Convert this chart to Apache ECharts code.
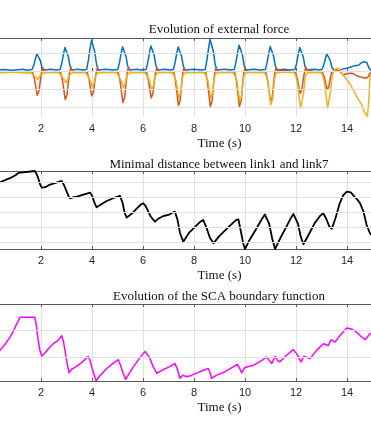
<!DOCTYPE html>
<html>
<head>
<meta charset="utf-8">
<script src="https://cdn.jsdelivr.net/npm/echarts@6/dist/echarts.min.js"></script>
<style>
  html, body { margin: 0; padding: 0; background: #fff; }
  #chart { width: 371px; height: 441px; }
</style>
</head>
<body>
<div id="chart"></div>
<script>
// x ticks (s)
const timeTicks = [0, 2, 4, 6, 8, 10, 12, 14, 16, 18];

// external force, three components [t, value]
const forceBlue = [
  [0, 0.3], [0.5, 0.4], [0.9, 0.2], [1.3, 0.5], [1.45, 0.2],
  [1.65, 0.4], [1.72, 1.7], [1.79, 3.7], [1.84, 4.75], [1.87, 4.9], [1.91, 4.55], [1.97, 2.95], [2.04, 1.0], [2.11, 0.3],
  [2.4, 0.5], [2.6, 0.3],
  [2.75, 0.4], [2.82, 2.35], [2.89, 5.05], [2.94, 6.55], [2.97, 6.75], [3.01, 6.3], [3.07, 4.05], [3.14, 1.35], [3.21, 0.3],
  [3.45, 0.5], [3.65, 0.3],
  [3.79, 0.4], [3.86, 3.1], [3.93, 6.6], [3.98, 8.55], [4.01, 8.8], [4.05, 8.2], [4.11, 5.3], [4.18, 1.75], [4.25, 0.3],
  [4.55, 0.5], [4.8, 0.3],
  [5.01, 0.4], [5.08, 2.4], [5.15, 5.2], [5.2, 6.7], [5.23, 6.9], [5.27, 6.4], [5.33, 4.15], [5.4, 1.4], [5.47, 0.3],
  [5.75, 0.5], [5.95, 0.3],
  [6.12, 0.4], [6.19, 2.5], [6.26, 5.4], [6.31, 7.0], [6.34, 7.2], [6.38, 6.7], [6.44, 4.3], [6.51, 1.45], [6.58, 0.3],
  [6.85, 0.5], [7.05, 0.3],
  [7.19, 0.4], [7.26, 2.4], [7.33, 5.2], [7.38, 6.7], [7.41, 6.9], [7.45, 6.4], [7.51, 4.15], [7.58, 1.4], [7.65, 0.3],
  [8.0, 0.5], [8.25, 0.3],
  [8.44, 0.4], [8.51, 3.2], [8.58, 6.8], [8.63, 8.8], [8.66, 9.1], [8.7, 8.45], [8.76, 5.45], [8.83, 1.8], [8.9, 0.3],
  [9.2, 0.5], [9.4, 0.3],
  [9.58, 0.4], [9.65, 2.6], [9.72, 5.55], [9.77, 7.2], [9.8, 7.4], [9.84, 6.9], [9.9, 4.45], [9.97, 1.5], [10.04, 0.3],
  [10.35, 0.5], [10.6, 0.3],
  [10.8, 0.4], [10.87, 2.45], [10.94, 5.25], [10.99, 6.8], [11.02, 7.0], [11.06, 6.5], [11.12, 4.2], [11.19, 1.4], [11.26, 0.3],
  [11.55, 0.5], [11.75, 0.3],
  [11.96, 0.4], [12.03, 2.35], [12.1, 5.05], [12.15, 6.55], [12.18, 6.75], [12.22, 6.3], [12.28, 4.05], [12.35, 1.35], [12.42, 0.3],
  [12.7, 0.5], [12.9, 0.3],
  [13.02, 0.4], [13.09, 1.7], [13.16, 3.7], [13.21, 4.75], [13.24, 4.9], [13.28, 4.55], [13.34, 2.95], [13.41, 1.0], [13.48, 0.3],
  [13.6, 0.0], [13.7, 0.2], [13.85, 0.6], [14.0, 0.8], [14.15, 1.1], [14.3, 1.5], [14.45, 1.6],
  [14.55, 2.2], [14.65, 2.6], [14.72, 3.1], [14.78, 2.4], [14.85, 1.0], [14.92, 0.3], [15.0, 0.4]
];

const forceOrange = [
  [0, -0.2], [0.5, -0.3], [0.9, -0.1], [1.3, -0.4],
  [1.67, -0.4], [1.74, -2.1], [1.81, -5.1], [1.85, -6.75], [1.88, -7.1], [1.92, -5.7], [1.97, -2.85], [2.02, -0.5], [2.07, 0.9], [2.15, -0.1],
  [2.5, -0.3],
  [2.77, -0.4], [2.84, -2.5], [2.91, -6.0], [2.95, -7.9], [2.98, -8.3], [3.02, -6.65], [3.07, -3.3], [3.12, -0.5], [3.17, 1.0], [3.25, -0.1],
  [3.55, -0.3],
  [3.81, -0.4], [3.88, -2.2], [3.95, -5.25], [3.99, -6.95], [4.02, -7.3], [4.06, -5.85], [4.11, -2.9], [4.16, -0.5], [4.21, 0.8], [4.29, -0.1],
  [4.65, -0.3],
  [5.03, -0.4], [5.1, -2.75], [5.17, -6.6], [5.21, -8.75], [5.24, -9.2], [5.28, -7.35], [5.33, -3.7], [5.38, -0.5], [5.43, 1.0], [5.51, -0.1],
  [5.85, -0.3],
  [6.14, -0.4], [6.21, -2.35], [6.28, -5.7], [6.32, -7.5], [6.35, -7.9], [6.39, -6.3], [6.44, -3.15], [6.49, -0.5], [6.54, 0.8], [6.62, -0.1],
  [6.95, -0.3],
  [7.21, -0.4], [7.28, -3.0], [7.35, -7.25], [7.39, -9.6], [7.42, -10.1], [7.46, -8.1], [7.51, -4.05], [7.56, -0.5], [7.61, 0.8], [7.69, -0.1],
  [8.1, -0.3],
  [8.46, -0.4], [8.53, -3.1], [8.6, -7.5], [8.64, -9.9], [8.67, -10.4], [8.71, -8.3], [8.76, -4.15], [8.81, -0.5], [8.86, 0.8], [8.94, -0.1],
  [9.3, -0.3],
  [9.6, -0.4], [9.67, -3.1], [9.74, -7.5], [9.78, -9.9], [9.81, -10.4], [9.85, -8.3], [9.9, -4.15], [9.95, -0.5], [10.0, 0.8], [10.08, -0.1],
  [10.45, -0.3],
  [10.82, -0.4], [10.89, -2.7], [10.96, -6.5], [11.0, -8.55], [11.03, -9.0], [11.07, -7.2], [11.12, -3.6], [11.17, -0.5], [11.22, 0.9], [11.3, 0.2],
  [11.65, 0.1],
  [11.98, -0.4], [12.05, -1.95], [12.12, -4.7], [12.16, -6.2], [12.19, -6.5], [12.23, -5.2], [12.28, -2.6], [12.33, -0.5], [12.38, 1.0], [12.46, 0.3],
  [12.75, -0.2],
  [13.04, -0.4], [13.11, -1.65], [13.18, -3.95], [13.22, -5.2], [13.25, -5.5], [13.29, -4.4], [13.34, -2.2], [13.39, -0.5],
  [13.47, -0.2], [13.55, 0.3], [13.62, 0.6], [13.7, 0.1], [13.85, -1.1], [14.0, -0.7], [14.2, -0.6], [14.35, -1.2],
  [14.5, -1.6], [14.62, -1.8], [14.75, -2.0], [14.83, -1.6], [14.9, -0.6], [15.0, -0.5]
];

const forceYellow = [
  [0, -0.45], [0.5, -0.5], [0.9, -0.3], [1.3, -0.5],
  [1.62, -0.5], [1.69, -1.2], [1.76, -1.3], [1.82, -1.75], [1.87, -2.4], [1.9, -2.5], [1.94, -1.9], [1.99, -1.1], [2.04, -0.8], [2.12, -0.5],
  [2.45, -0.4],
  [2.72, -0.5], [2.79, -1.3], [2.86, -1.6], [2.92, -2.4], [2.97, -3.25], [3.0, -3.4], [3.04, -2.55], [3.09, -1.3], [3.14, -0.9], [3.22, -0.5],
  [3.5, -0.4],
  [3.76, -0.5], [3.83, -1.4], [3.9, -1.8], [3.96, -3.15], [4.01, -4.3], [4.04, -4.5], [4.08, -3.4], [4.13, -1.6], [4.18, -0.9], [4.26, -0.5],
  [4.6, -0.4],
  [4.98, -0.5], [5.05, -1.4], [5.12, -1.9], [5.18, -3.35], [5.23, -4.55], [5.26, -4.8], [5.3, -3.6], [5.35, -1.7], [5.4, -0.9], [5.48, -0.5],
  [5.8, -0.4],
  [6.09, -0.5], [6.16, -1.5], [6.23, -2.2], [6.29, -3.85], [6.34, -5.2], [6.37, -5.5], [6.41, -4.1], [6.46, -1.9], [6.51, -1.0], [6.59, -0.5],
  [6.9, -0.4],
  [7.16, -0.5], [7.23, -1.5], [7.3, -2.8], [7.36, -5.6], [7.41, -7.6], [7.44, -8.0], [7.48, -6.0], [7.53, -2.8], [7.58, -1.0], [7.66, -0.5],
  [8.05, -0.4],
  [8.41, -0.5], [8.48, -1.5], [8.55, -2.8], [8.61, -5.6], [8.66, -7.6], [8.69, -8.0], [8.73, -6.0], [8.78, -2.8], [8.83, -1.0], [8.91, -0.5],
  [9.25, -0.4],
  [9.55, -0.5], [9.62, -1.5], [9.69, -3.15], [9.75, -6.3], [9.8, -8.55], [9.83, -9.0], [9.87, -6.75], [9.92, -3.15], [9.97, -1.0], [10.05, -0.5],
  [10.4, -0.4],
  [10.77, -0.5], [10.84, -1.5], [10.91, -3.45], [10.97, -6.95], [11.02, -9.4], [11.05, -9.9], [11.09, -7.4], [11.14, -3.45], [11.19, -1.0], [11.27, -0.5],
  [11.6, -0.3],
  [11.93, -0.5], [12.0, -1.5], [12.07, -3.8], [12.13, -7.6], [12.18, -10.3], [12.21, -10.8], [12.25, -10.3], [12.3, -6.0], [12.36, -1.5], [12.44, -0.5],
  [12.75, -0.4],
  [12.99, -0.5], [13.06, -1.5], [13.13, -3.8], [13.19, -7.6], [13.24, -10.3], [13.27, -10.8], [13.31, -10.0], [13.36, -5.5], [13.42, -1.2],
  [13.5, 0.2], [13.6, 0.8], [13.7, 0.5], [13.85, -1.1], [14.1, -3.4], [14.25, -5.3], [14.38, -7.1],
  [14.58, -9.4], [14.71, -11.9], [14.8, -12.6], [14.86, -8.0], [14.9, -1.5], [15.0, -0.5]
];

// minimal distance between link1 and link7 [t, value]
const linkDistance = [
  [0, 4.6], [0.39, 4.98], [0.78, 5.25], [1.0, 5.45], [1.11, 5.6], [1.18, 5.73], [1.76, 5.73],
  [1.82, 5.55], [1.89, 5.27], [1.96, 4.85], [2.03, 4.62], [2.12, 4.64], [2.22, 4.69], [2.32, 4.8],
  [2.42, 4.85], [2.6, 4.95], [2.72, 5.03], [2.81, 5.07], [2.9, 4.8], [3.01, 4.35], [3.08, 4.05], [3.14, 3.91],
  [3.25, 3.97], [3.4, 4.02], [3.6, 4.12], [3.8, 4.22], [3.92, 4.29], [4.0, 4.1], [4.1, 3.6], [4.18, 3.31],
  [4.35, 3.5], [4.58, 3.73], [4.85, 3.93], [5.0, 4.02], [5.1, 4.07], [5.2, 3.6], [5.28, 2.95], [5.36, 2.62],
  [5.6, 2.95], [5.8, 3.3], [5.92, 3.5], [6.01, 3.58], [6.1, 3.4], [6.3, 2.7], [6.47, 2.35], [6.6, 2.55],
  [6.8, 2.73], [7.0, 2.8], [7.15, 2.95], [7.25, 3.02], [7.35, 2.5], [7.45, 1.6], [7.58, 1.02], [7.8, 1.6],
  [8.1, 2.1], [8.25, 2.35], [8.36, 2.47], [8.5, 1.9], [8.62, 1.3], [8.76, 0.91], [9.0, 1.4], [9.3, 1.9],
  [9.55, 2.3], [9.66, 2.47], [9.74, 2.51], [9.85, 1.6], [9.93, 0.9], [10.0, 0.53], [10.2, 1.2], [10.45, 1.9],
  [10.65, 2.5], [10.78, 2.83], [10.85, 2.91], [10.95, 2.2], [11.07, 1.2], [11.18, 0.53], [11.4, 1.3], [11.65, 2.1],
  [11.8, 2.6], [11.9, 2.86], [11.96, 2.91], [12.08, 2.2], [12.18, 1.4], [12.29, 0.85], [12.5, 1.5], [12.75, 2.3],
  [12.95, 2.75], [13.07, 2.91], [13.2, 2.5], [13.3, 2.05], [13.4, 1.87], [13.55, 2.6], [13.7, 3.5],
  [13.85, 4.1], [13.99, 4.35], [14.15, 4.3], [14.3, 4.0], [14.42, 3.8], [14.51, 3.58], [14.65, 3.0], [14.77, 2.13],
  [14.9, 1.58], [15.0, 1.4]
];

// SCA boundary function [t, value]
const scaBoundary = [
  [0, 1.0], [0.39, 1.26], [0.6, 1.5], [0.78, 1.75], [0.9, 1.95], [0.98, 2.12], [1.1, 2.35],
  [1.18, 2.5], [1.76, 2.5], [1.82, 2.2], [1.89, 1.63], [1.96, 1.25], [2.03, 1.05], [2.15, 1.15],
  [2.29, 1.32], [2.48, 1.51], [2.65, 1.62], [2.81, 1.81], [2.88, 1.6], [2.94, 1.26], [3.02, 0.8],
  [3.1, 0.42], [3.2, 0.55], [3.33, 0.62], [3.6, 0.8], [3.85, 1.04], [3.92, 0.9], [3.99, 0.64],
  [4.08, 0.35], [4.16, 0.12], [4.3, 0.3], [4.58, 0.58], [4.8, 0.75], [5.03, 0.91], [5.12, 0.7],
  [5.22, 0.4], [5.32, 0.17], [5.45, 0.38], [5.62, 0.64], [5.85, 0.95], [6.08, 1.22], [6.25, 1.0],
  [6.4, 0.65], [6.54, 0.4], [6.8, 0.54], [7.05, 0.65], [7.25, 0.77], [7.35, 0.55], [7.45, 0.21],
  [7.56, 0.33], [7.71, 0.27], [7.9, 0.32], [8.2, 0.45], [8.56, 0.58], [8.62, 0.45], [8.69, 0.21],
  [8.89, 0.33], [9.2, 0.45], [9.5, 0.62], [9.7, 0.73], [9.78, 0.6], [9.87, 0.42], [10.0, 0.62],
  [10.33, 0.7], [10.6, 0.85], [10.85, 1.01], [10.95, 0.88], [11.05, 0.77], [11.18, 1.04], [11.27, 0.88],
  [11.37, 0.83], [11.6, 1.05], [11.89, 1.29], [12.05, 1.1], [12.2, 0.83], [12.31, 1.04], [12.55, 0.95],
  [12.8, 1.25], [13.07, 1.51], [13.27, 1.44], [13.37, 1.66], [13.53, 1.57], [13.75, 1.85], [13.99, 2.1],
  [14.2, 2.05], [14.38, 1.94], [14.55, 1.78], [14.71, 1.66], [14.9, 1.88], [15.0, 1.9]
];

// y limits and horizontal grid values per panel
const forceRange = [-12.8, 9.2];
const forceGrid = [-10, -5, 0, 5];
const distRange = [0.53, 5.73];
const distGrid = [1, 2, 3, 4, 5];
const scaRange = [0.11, 3.0];
const scaGrid = [1, 2];

const titles = [
  'Evolution of external force',
  'Minimal distance between link1 and link7',
  'Evolution of the SCA boundary function'
];

const serif = 'Liberation Serif, Times New Roman, serif';
const sans = 'Liberation Sans, Arial, sans-serif';
const axisColor = '#5a5a5a';
const gridColor = '#e0e0e0';

const grids = [
  { left: -10, width: 459, top: 38, height: 79, outerBoundsMode: 'none', containLabel: false },
  { left: -10, width: 459, top: 171, height: 78, outerBoundsMode: 'none', containLabel: false },
  { left: -10, width: 459, top: 304, height: 77, outerBoundsMode: 'none', containLabel: false }
];
const titleTops = [23, 158, 290];
const ranges = [forceRange, distRange, scaRange];
const hGrids = [forceGrid, distGrid, scaGrid];

const xBottom = grids.map((g, i) => ({
  type: 'value', gridIndex: i, position: 'bottom',
  min: timeTicks[0], max: timeTicks[timeTicks.length - 1], interval: 2,
  name: 'Time (s)', nameLocation: 'middle', nameGap: 20,
  nameTextStyle: { fontFamily: serif, fontSize: 13, color: '#111' },
  axisLine: { lineStyle: { color: axisColor, width: 1 } },
  axisTick: { inside: true, length: 3, lineStyle: { color: axisColor } },
  axisLabel: { margin: 6, fontFamily: sans, fontSize: 11, color: '#262626',
    formatter: v => (v === 0 || v === 16 || v === 18) ? '' : String(v) },
  splitLine: { show: true, lineStyle: { color: gridColor, width: 1 } }
}));
const xTop = grids.map((g, i) => ({
  type: 'value', gridIndex: i, position: 'top',
  min: timeTicks[0], max: timeTicks[timeTicks.length - 1], interval: 2,
  axisLine: { lineStyle: { color: axisColor, width: 1 } },
  axisTick: { inside: true, length: 3, lineStyle: { color: axisColor } },
  axisLabel: { show: false },
  splitLine: { show: false }
}));

const yAxes = grids.map((g, i) => ({
  type: 'value', gridIndex: i, min: ranges[i][0], max: ranges[i][1],
  axisLine: { show: false }, axisTick: { show: false },
  axisLabel: { show: false }, splitLine: { show: false }
}));

function gridLines(i) {
  return {
    type: 'line', xAxisIndex: i, yAxisIndex: i, data: [], z: 1, silent: true,
    markLine: {
      silent: true, symbol: 'none', label: { show: false },
      lineStyle: { color: gridColor, type: 'solid', width: 1 },
      data: hGrids[i].map(v => ({ yAxis: v }))
    }
  };
}

function trace(data, i, color, width) {
  return {
    type: 'line', xAxisIndex: i, yAxisIndex: i, data: data,
    showSymbol: false, smooth: false, clip: true,
    lineStyle: { color: color, width: width, join: 'round', cap: 'round' }
  };
}

const chart = echarts.init(document.getElementById('chart'), null, { renderer: 'canvas' });
chart.setOption({
  animation: false,
  backgroundColor: '#fff',
  title: titles.map((t, i) => ({
    text: t, left: 219, top: titleTops[i], textAlign: 'center', padding: 0,
    textStyle: { fontFamily: serif, fontSize: 13, fontWeight: 'normal', color: '#111' }
  })),
  grid: grids,
  xAxis: xBottom.concat(xTop),
  yAxis: yAxes,
  series: [
    gridLines(0), gridLines(1), gridLines(2),
    trace(forceBlue, 0, '#0072BD', 1.5),
    trace(forceOrange, 0, '#D95319', 1.5),
    trace(forceYellow, 0, '#EDB120', 1.5),
    trace(linkDistance, 1, '#000000', 1.8),
    trace(scaBoundary, 2, '#FF00FF', 1.5)
  ]
});
</script>
</body>
</html>
